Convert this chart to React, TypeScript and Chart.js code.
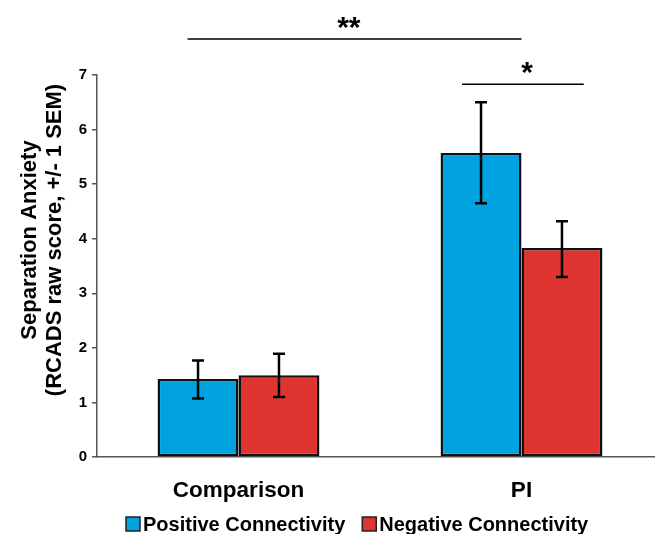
import React, { useEffect, useRef } from 'react';
import { Chart, registerables } from 'chart.js';

Chart.register(...registerables);

// ---- Data ----
const categories = ['Comparison', 'PI'];
const seriesNames = ['Positive Connectivity', 'Negative Connectivity'];
const positiveMeans = [1.43, 5.57];
const negativeMeans = [1.5, 3.83];
const positiveLow = [1.07, 4.65];
const positiveHigh = [1.77, 6.5];
const negativeLow = [1.1, 3.3];
const negativeHigh = [1.89, 4.32];
const yAxisTitle = ['Separation Anxiety', '(RCADS raw score, +/- 1 SEM)'];
const sigLabels = ['**', '*'];
const sigFrom = [-0.18, 0.79]; // category units
const sigTo = [1.0, 1.22];
const sigLabelX = [0.39, 1.02];
const sigLevel = [7.66, 6.83]; // y-axis units

const BLUE = '#00a3e0';
const RED = '#de3530';
const FONT = '"Liberation Sans", Arial, sans-serif';

const errLows = [positiveLow, negativeLow];
const errHighs = [positiveHigh, negativeHigh];

const errorBarPlugin = {
  id: 'errorBars',
  afterDatasetsDraw(chart: any) {
    const ctx = chart.ctx;
    const y = chart.scales.y;
    ctx.save();
    ctx.strokeStyle = '#000';
    ctx.lineWidth = 2.5;
    chart.data.datasets.forEach((_: any, di: number) => {
      const meta = chart.getDatasetMeta(di);
      meta.data.forEach((el: any, i: number) => {
        const x = el.x;
        const yl = y.getPixelForValue(errLows[di][i]);
        const yh = y.getPixelForValue(errHighs[di][i]);
        const cap = 6;
        ctx.beginPath();
        ctx.moveTo(x, yl);
        ctx.lineTo(x, yh);
        ctx.moveTo(x - cap, yl);
        ctx.lineTo(x + cap, yl);
        ctx.moveTo(x - cap, yh);
        ctx.lineTo(x + cap, yh);
        ctx.stroke();
      });
    });
    ctx.restore();
  },
};

const sigPlugin = {
  id: 'sig',
  afterDraw(chart: any) {
    const ctx = chart.ctx;
    const xs = chart.scales.x;
    const ys = chart.scales.y;
    ctx.save();
    sigLabels.forEach((lab, i) => {
      const x1 = xs.getPixelForValue(sigFrom[i]);
      const x2 = xs.getPixelForValue(sigTo[i]);
      const yy = ys.getPixelForValue(sigLevel[i]);
      ctx.strokeStyle = '#000';
      ctx.lineWidth = 1.5;
      ctx.beginPath();
      ctx.moveTo(x1, yy);
      ctx.lineTo(x2, yy);
      ctx.stroke();
      ctx.fillStyle = '#000';
      ctx.font = `bold 30px ${FONT}`;
      ctx.textAlign = 'center';
      ctx.textBaseline = 'alphabetic';
      ctx.fillText(lab, xs.getPixelForValue(sigLabelX[i]), yy - 2);
    });
    ctx.restore();
  },
};

const yTitlePlugin = {
  id: 'yTitle',
  afterDraw(chart: any) {
    const ctx = chart.ctx;
    const area = chart.chartArea;
    const cy = (area.top + area.bottom) / 2 - 26;
    ctx.save();
    ctx.fillStyle = '#000';
    ctx.font = `bold 22px ${FONT}`;
    ctx.textAlign = 'center';
    ctx.textBaseline = 'middle';
    const xs = [30, 55];
    yAxisTitle.forEach((line, i) => {
      ctx.save();
      ctx.translate(xs[i], cy);
      ctx.rotate(-Math.PI / 2);
      ctx.fillText(line, 0, 0);
      ctx.restore();
    });
    ctx.restore();
  },
};

const legendPlugin = {
  id: 'customLegend',
  afterDraw(chart: any) {
    const ctx = chart.ctx;
    const area = chart.chartArea;
    ctx.save();
    ctx.font = `bold 20px ${FONT}`;
    ctx.textBaseline = 'alphabetic';
    ctx.textAlign = 'left';
    let x = area.left + 29;
    const boxTop = 517;
    const box = 14;
    chart.data.datasets.forEach((ds: any) => {
      ctx.fillStyle = ds.backgroundColor;
      ctx.fillRect(x, boxTop, box, box);
      ctx.strokeStyle = '#222';
      ctx.lineWidth = 1.5;
      ctx.strokeRect(x, boxTop, box, box);
      x += box + 3;
      ctx.fillStyle = '#000';
      ctx.fillText(ds.label, x, 530.5);
      x += ctx.measureText(ds.label).width + 17;
    });
    ctx.restore();
  },
};

export default function App() {
  const ref = useRef<HTMLCanvasElement>(null);
  useEffect(() => {
    const chart = new Chart(ref.current as HTMLCanvasElement, {
      type: 'bar',
      data: {
        labels: categories,
        datasets: [
          {
            label: seriesNames[0],
            data: positiveMeans,
            backgroundColor: BLUE,
            borderColor: '#111',
            borderWidth: 2.5,
            borderSkipped: false,
          },
          {
            label: seriesNames[1],
            data: negativeMeans,
            backgroundColor: RED,
            borderColor: '#111',
            borderWidth: 2.5,
            borderSkipped: false,
          },
        ],
      },
      options: {
        responsive: false,
        animation: false,
        events: [],
        layout: { padding: { top: 75, right: 7, left: 0, bottom: 0 } },
        datasets: { bar: { categoryPercentage: 0.572, barPercentage: 1 } },
        plugins: { legend: { display: false }, tooltip: { enabled: false }, title: { display: false } },
        scales: {
          x: {
            grid: { display: false, drawTicks: false },
            border: { display: true, color: '#555', width: 1.5 },
            ticks: { color: '#000', font: { family: FONT, size: 22.5, weight: 'bold' }, padding: 20 },
            afterFit: (s: any) => {
              s.height = 77;
            },
          },
          y: {
            min: 0,
            max: 7,
            ticks: { stepSize: 1, color: '#000', font: { family: FONT, size: 15, weight: 'bold' }, padding: 5 },
            grid: { drawOnChartArea: false, drawTicks: true, tickLength: 5, color: '#555', lineWidth: 1.5 },
            border: { display: true, color: '#555', width: 1.5 },
            title: { display: false },
            afterFit: (s: any) => {
              s.width = 97;
            },
          },
        },
      },
      plugins: [errorBarPlugin, sigPlugin, yTitlePlugin, legendPlugin],
    } as any);
    return () => chart.destroy();
  }, []);
  return (
    <div style={{ position: 'fixed', left: 0, top: 0, width: 655, height: 534, overflow: 'hidden', background: '#fff' }}>
      <canvas ref={ref} width={670} height={534} style={{ display: 'block' }} />
    </div>
  );
}
